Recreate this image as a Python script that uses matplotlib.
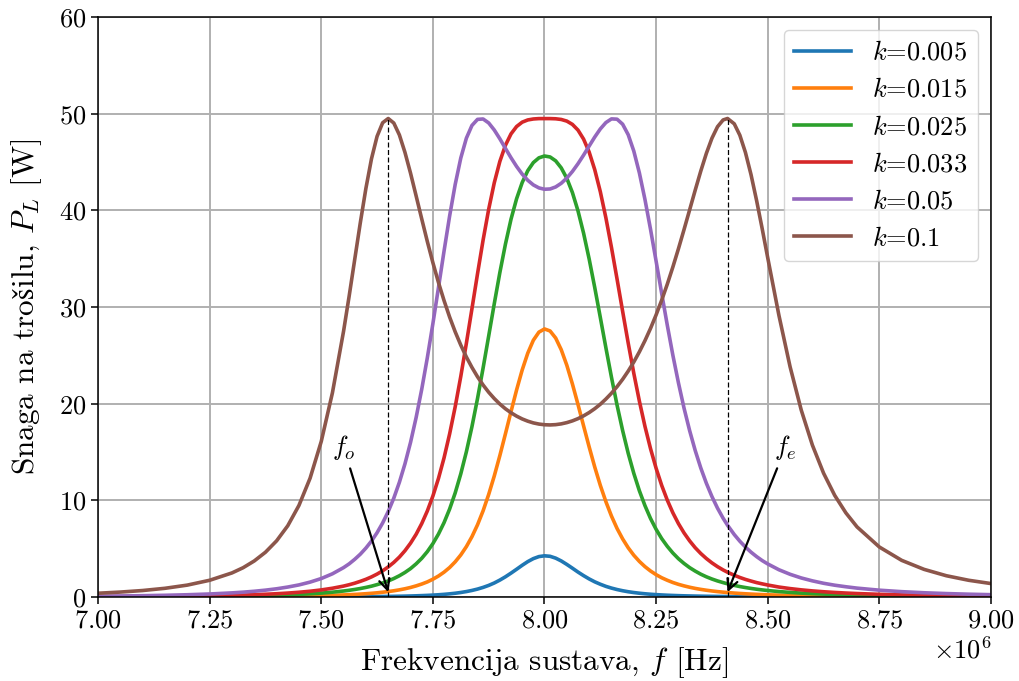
import numpy as np
import matplotlib
matplotlib.use("Agg")
import matplotlib.pyplot as plt

plt.rcParams['font.family'] = ['cmr10', 'DejaVu Serif']
plt.rcParams['mathtext.fontset'] = 'cm'
plt.rcParams['axes.formatter.use_mathtext'] = True
plt.rcParams['axes.unicode_minus'] = False

# Frequency samples (MHz)
freq_mhz = [7.00, 7.05, 7.10, 7.15, 7.20, 7.25, 7.30, 7.325, 7.35, 7.375, 7.40, 7.425,
            7.45, 7.475, 7.50, 7.525, 7.55, 7.5625, 7.575, 7.5875, 7.60, 7.6125, 7.625,
            7.6375, 7.65, 7.6625, 7.675, 7.6875, 7.70, 7.7125, 7.725, 7.7375, 7.75,
            7.7625, 7.775, 7.7875, 7.80, 7.8125, 7.825, 7.8375, 7.85, 7.8625, 7.875,
            7.8875, 7.90, 7.9125, 7.925, 7.9375, 7.95, 7.9625, 7.975, 7.9875, 8.00,
            8.0125, 8.025, 8.0375, 8.05, 8.0625, 8.075, 8.0875, 8.10, 8.1125, 8.125,
            8.1375, 8.15, 8.1625, 8.175, 8.1875, 8.20, 8.2125, 8.225, 8.2375, 8.25,
            8.2625, 8.275, 8.2875, 8.30, 8.3125, 8.325, 8.3375, 8.35, 8.3625, 8.375,
            8.3875, 8.40, 8.41, 8.425, 8.4375, 8.45, 8.4625, 8.475, 8.4875, 8.50, 8.525,
            8.55, 8.575, 8.60, 8.625, 8.65, 8.675, 8.70, 8.75, 8.80, 8.85, 8.90, 8.95,
            9.00]

p_k005 = [0.0008, 0.0010, 0.0013, 0.0016, 0.0021, 0.0028, 0.0038, 0.0044, 0.0052, 0.0061,
          0.0073, 0.0087, 0.0104, 0.0126, 0.0153, 0.0188, 0.0233, 0.0260, 0.0291, 0.0326,
          0.0367, 0.0414, 0.0469, 0.0533, 0.0607, 0.0693, 0.0795, 0.0915, 0.106, 0.123,
          0.143, 0.167, 0.196, 0.231, 0.274, 0.326, 0.389, 0.467, 0.562, 0.678, 0.820,
          0.993, 1.20, 1.45, 1.75, 2.09, 2.47, 2.87, 3.28, 3.66, 3.97, 4.18, 4.26, 4.21,
          4.02, 3.73, 3.37, 2.98, 2.58, 2.21, 1.87, 1.57, 1.32, 1.10, 0.922, 0.772, 0.648,
          0.545, 0.461, 0.391, 0.333, 0.285, 0.245, 0.212, 0.183, 0.160, 0.139, 0.122,
          0.108, 0.095, 0.084, 0.075, 0.067, 0.060, 0.054, 0.049, 0.044, 0.040, 0.036,
          0.033, 0.030, 0.027, 0.025, 0.021, 0.018, 0.015, 0.013, 0.011, 0.0099, 0.0086,
          0.0076, 0.0059, 0.0047, 0.0038, 0.0031, 0.0026, 0.0022]

p_k015 = [0.007, 0.009, 0.012, 0.015, 0.019, 0.026, 0.034, 0.040, 0.047, 0.056, 0.066,
          0.079, 0.095, 0.115, 0.140, 0.172, 0.214, 0.239, 0.268, 0.301, 0.339, 0.383,
          0.434, 0.494, 0.563, 0.644, 0.740, 0.853, 0.987, 1.15, 1.34, 1.56, 1.84, 2.17,
          2.57, 3.05, 3.64, 4.35, 5.21, 6.24, 7.47, 8.92, 10.61, 12.52, 14.63, 16.88,
          19.18, 21.42, 23.48, 25.22, 26.56, 27.40, 27.73, 27.52, 26.79, 25.58, 23.97,
          22.04, 19.92, 17.71, 15.53, 13.45, 11.55, 9.86, 8.37, 7.09, 6.01, 5.09, 4.32,
          3.68, 3.14, 2.69, 2.31, 1.99, 1.73, 1.50, 1.31, 1.15, 1.01, 0.890, 0.788, 0.700,
          0.624, 0.558, 0.500, 0.459, 0.406, 0.367, 0.332, 0.302, 0.275, 0.251, 0.229,
          0.193, 0.164, 0.140, 0.120, 0.104, 0.090, 0.079, 0.069, 0.054, 0.043, 0.035,
          0.028, 0.023, 0.020]

p_k025 = [0.020, 0.025, 0.032, 0.042, 0.055, 0.072, 0.098, 0.114, 0.134, 0.159, 0.189,
          0.226, 0.272, 0.330, 0.403, 0.497, 0.619, 0.693, 0.779, 0.877, 0.991, 1.12,
          1.28, 1.45, 1.66, 1.91, 2.20, 2.54, 2.94, 3.43, 4.00, 4.69, 5.52, 6.51, 7.69,
          9.10, 10.77, 12.74, 15.02, 17.62, 20.53, 23.69, 27.00, 30.34, 33.56, 36.50,
          39.08, 41.20, 42.87, 44.10, 44.94, 45.43, 45.62, 45.52, 45.12, 44.39, 43.31,
          41.84, 39.95, 37.64, 34.97, 32.02, 28.92, 25.78, 22.73, 19.85, 17.22, 14.86,
          12.79, 10.99, 9.45, 8.12, 7.00, 6.04, 5.24, 4.55, 3.96, 3.47, 3.04, 2.68, 2.36,
          2.09, 1.86, 1.66, 1.49, 1.36, 1.20, 1.08, 0.977, 0.886, 0.805, 0.733, 0.669,
          0.561, 0.475, 0.404, 0.346, 0.299, 0.259, 0.226, 0.198, 0.155, 0.123, 0.099,
          0.080, 0.066, 0.055]

p_k033 = [0.035, 0.045, 0.057, 0.074, 0.097, 0.128, 0.174, 0.203, 0.240, 0.284, 0.338,
          0.406, 0.490, 0.596, 0.732, 0.906, 1.13, 1.27, 1.43, 1.62, 1.83, 2.08, 2.37,
          2.71, 3.11, 3.58, 4.13, 4.79, 5.57, 6.49, 7.59, 8.89, 10.44, 12.26, 14.39,
          16.87, 19.68, 22.82, 26.24, 29.82, 33.44, 36.93, 40.11, 42.85, 45.06, 46.73,
          47.91, 48.67, 49.12, 49.35, 49.45, 49.49, 49.49, 49.49, 49.47, 49.40, 49.23,
          48.89, 48.30, 47.37, 46.03, 44.21, 41.93, 39.22, 36.16, 32.89, 29.55, 26.26,
          23.14, 20.26, 17.65, 15.34, 13.31, 11.54, 10.02, 8.71, 7.59, 6.63, 5.81, 5.10,
          4.50, 3.98, 3.53, 3.14, 2.80, 2.56, 2.25, 2.02, 1.82, 1.65, 1.49, 1.36, 1.24,
          1.03, 0.870, 0.739, 0.631, 0.543, 0.470, 0.409, 0.358, 0.278, 0.220, 0.176,
          0.143, 0.118, 0.098]

p_k050 = [0.084, 0.106, 0.136, 0.177, 0.233, 0.312, 0.426, 0.501, 0.594, 0.708, 0.850,
          1.03, 1.25, 1.54, 1.91, 2.40, 3.04, 3.43, 3.90, 4.43, 5.06, 5.79, 6.65, 7.66,
          8.84, 10.23, 11.87, 13.78, 16.00, 18.57, 21.48, 24.73, 28.27, 32.00, 35.78,
          39.41, 42.68, 45.41, 47.46, 48.78, 49.41, 49.45, 49.04, 48.31, 47.40, 46.41,
          45.44, 44.54, 43.75, 43.11, 42.63, 42.32, 42.18, 42.21, 42.42, 42.80, 43.34,
          44.02, 44.82, 45.71, 46.65, 47.58, 48.42, 49.08, 49.46, 49.43, 48.91, 47.82,
          46.13, 43.87, 41.12, 38.03, 34.73, 31.39, 28.12, 25.01, 22.15, 19.54, 17.22,
          15.16, 13.35, 11.77, 10.39, 9.19, 8.15, 7.42, 6.46, 5.77, 5.17, 4.64, 4.18,
          3.77, 3.42, 2.82, 2.35, 1.97, 1.67, 1.42, 1.22, 1.06, 0.918, 0.705, 0.552,
          0.439, 0.355, 0.290, 0.240]

p_k100 = [0.39, 0.51, 0.67, 0.90, 1.23, 1.73, 2.49, 3.03, 3.73, 4.63, 5.81, 7.37, 9.47,
          12.29, 16.09, 21.12, 27.50, 31.13, 34.93, 38.72, 42.27, 45.33, 47.65, 49.06,
          49.50, 49.03, 47.80, 45.99, 43.84, 41.49, 39.12, 36.79, 34.59, 32.54, 30.67,
          28.96, 27.43, 26.06, 24.83, 23.75, 22.78, 21.93, 21.18, 20.53, 19.96, 19.47,
          19.06, 18.71, 18.42, 18.19, 18.01, 17.89, 17.82, 17.80, 17.83, 17.91, 18.04,
          18.22, 18.45, 18.74, 19.08, 19.48, 19.94, 20.48, 21.08, 21.76, 22.52, 23.37,
          24.31, 25.36, 26.52, 27.79, 29.19, 30.71, 32.36, 34.14, 36.03, 38.01, 40.04,
          42.08, 44.06, 45.89, 47.46, 48.65, 49.35, 49.50, 48.95, 47.77, 45.99, 43.70,
          41.02, 38.11, 35.08, 29.14, 23.82, 19.34, 15.71, 12.81, 10.51, 8.70, 7.25,
          5.17, 3.79, 2.86, 2.20, 1.73, 1.39]

series = [p_k005, p_k015, p_k025, p_k033, p_k050, p_k100]
labels = ['$k$=0.005', '$k$=0.015', '$k$=0.025', '$k$=0.033', '$k$=0.05', '$k$=0.1']

f_o_mhz = 7.65
f_e_mhz = 8.41
p_peak = 49.5

fig = plt.figure(figsize=(10.19, 6.81), dpi=100)
ax = fig.add_axes([98/1019, 1-597/681, (991-98)/1019, (597-17)/681])

f_hz = np.array(freq_mhz) * 1e6
for p, lab in zip(series, labels):
    ax.plot(f_hz, p, lw=2.6, label=lab, solid_joinstyle='round')

ax.vlines([f_o_mhz*1e6, f_e_mhz*1e6], 0, p_peak, colors='k', lw=0.9,
          linestyles=(0, (4, 2)))

ax.annotate('$f_o$', xy=(f_o_mhz*1e6, 0.5), xytext=(7.55e6, 15.5),
            ha='center', va='center', fontsize=19,
            arrowprops=dict(arrowstyle='->', color='k', lw=1.6, shrinkA=3, shrinkB=0))
ax.annotate('$f_e$', xy=(f_e_mhz*1e6, 0.5), xytext=(8.54e6, 15.5),
            ha='center', va='center', fontsize=19,
            arrowprops=dict(arrowstyle='->', color='k', lw=1.6, shrinkA=3, shrinkB=0))

ax.set_xlim(7.0e6, 9.0e6)
ax.set_ylim(0, 60)
ax.set_xticks(np.arange(7.0e6, 9.0e6 + 1, 0.25e6))
ax.set_yticks(np.arange(0, 61, 10))
ax.grid(True, color='#b0b0b0', lw=1.4)
ax.set_axisbelow(True)
for s in ax.spines.values():
    s.set_linewidth(1.1)
ax.tick_params(width=1.1, length=5, labelsize=19)
ax.xaxis.get_offset_text().set_fontsize(19)

ax.set_xlabel('Frekvencija sustava, $f$ [Hz]', fontsize=22.5, labelpad=9)
ax.set_ylabel(r'Snaga na tro$\mathrm{š}$ilu, $P_L$ [W]', fontsize=22.5, labelpad=11)
ax.legend(loc='upper right', fontsize=19, handlelength=2.15)

fig.savefig('out.png', dpi=100)
